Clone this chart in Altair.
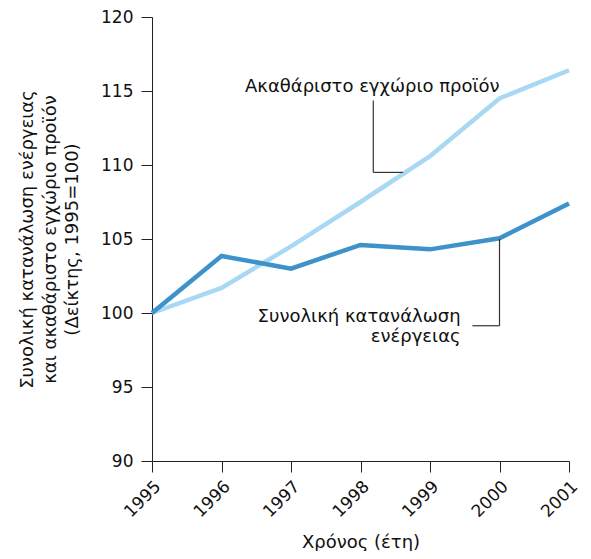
import altair as alt
import pandas as pd

years = [1995, 1996, 1997, 1998, 1999, 2000, 2001]
gdp = [100.0, 101.7, 104.5, 107.5, 110.6, 114.5, 116.4]
energy = [100.0, 103.85, 103.0, 104.6, 104.3, 105.05, 107.4]

series_names = ["Ακαθάριστο εγχώριο προϊόν", "Συνολική κατανάλωση ενέργειας"]
series_colors = ["#a9d8f5", "#3d92c9"]

y_ticks = [90, 95, 100, 105, 110, 115, 120]

# annotation labels (data coordinates)
label_text = ["Ακαθάριστο εγχώριο προϊόν", "Συνολική κατανάλωση", "ενέργειας"]
label_x = [1998.17, 1999.44, 1999.44]
label_y = [114.93, 99.39, 98.05]
label_align = ["center", "right", "right"]

# leader lines (data coordinates)
lead_x = [1998.184, 1998.184, 1999.61, 2000.0]
lead_x2 = [1998.184, 1998.61, 2000.0, 2000.0]
lead_y = [114.35, 109.5, 99.14, 99.14]
lead_y2 = [109.5, 109.5, 99.14, 105.0]

font = "DejaVu Sans"

rows = []
for yr, g, e in zip(years, gdp, energy):
    rows.append({"year": yr, "value": g, "series": series_names[0]})
    rows.append({"year": yr, "value": e, "series": series_names[1]})
df = pd.DataFrame(rows)

labels_df = pd.DataFrame({"text": label_text, "x": label_x, "y": label_y, "align": label_align})
leads_df = pd.DataFrame({"x": lead_x, "x2": lead_x2, "y": lead_y, "y2": lead_y2})

xscale = alt.Scale(domain=[1995, 2001], nice=False, zero=False)
yscale = alt.Scale(domain=[90, 120], nice=False, zero=False)

lines = alt.Chart(df).mark_line(strokeWidth=4.5).encode(
    x=alt.X("year:Q", scale=xscale,
            axis=alt.Axis(values=years, format="d", labelAngle=-45, title="Χρόνος (έτη)",
                          labelPadding=6, titlePadding=14)),
    y=alt.Y("value:Q", scale=yscale,
            axis=alt.Axis(values=y_ticks,
                          title=["Συνολική κατανάλωση ενέργειας",
                                 "και ακαθάριστο εγχώριο προϊόν",
                                 "(Δείκτης, 1995=100)"],
                          labelPadding=8, titlePadding=19)),
    color=alt.Color("series:N", scale=alt.Scale(domain=series_names, range=series_colors), legend=None),
    detail="series:N",
)

leads = alt.Chart(leads_df).mark_rule(color="#333333", strokeWidth=1.2).encode(
    x=alt.X("x:Q", scale=xscale), x2="x2:Q",
    y=alt.Y("y:Q", scale=yscale), y2="y2:Q",
)

texts_c = alt.Chart(labels_df[labels_df["align"] == "center"]).mark_text(
    align="center", baseline="alphabetic", font=font, fontSize=18, color="#111111"
).encode(x=alt.X("x:Q", scale=xscale), y=alt.Y("y:Q", scale=yscale), text="text:N")

texts_r = alt.Chart(labels_df[labels_df["align"] == "right"]).mark_text(
    align="right", baseline="alphabetic", font=font, fontSize=18, color="#111111"
).encode(x=alt.X("x:Q", scale=xscale), y=alt.Y("y:Q", scale=yscale), text="text:N")

chart = alt.layer(lines, leads, texts_c, texts_r).properties(
    width=417, height=444,
    autosize=alt.AutoSizeParams(type="none"),
    padding={"left": 144, "top": 9, "right": 14, "bottom": 90},
).configure_view(stroke=None).configure_axis(
    grid=False,
    domainColor="#222222", tickColor="#222222", domainWidth=1, tickWidth=1,
    tickSize=11,
    labelFont=font, labelFontSize=17, labelColor="#111111",
    titleFont=font, titleFontSize=18, titleColor="#111111", titleFontWeight="normal",
    titleLineHeight=22.5,
)

chart.save("out.html", embed_options={"renderer": "svg", "actions": False})
